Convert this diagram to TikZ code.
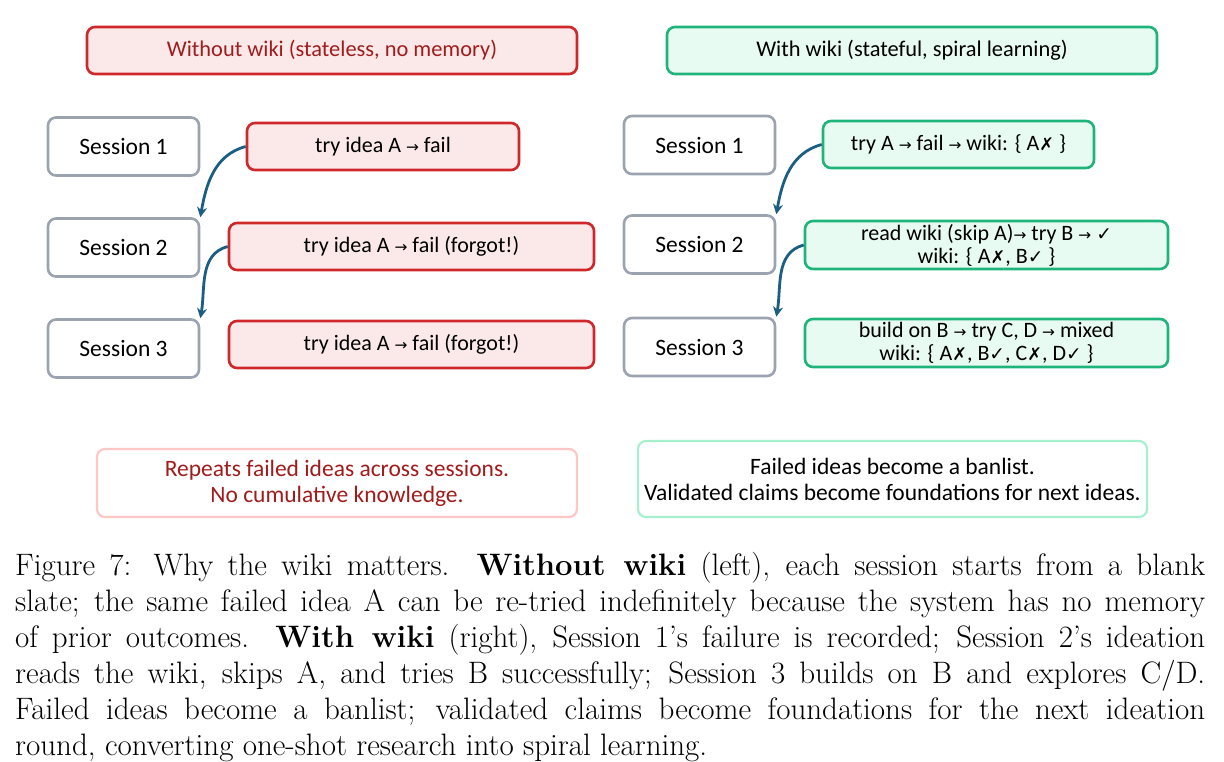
\documentclass[tikz,border=0pt]{standalone}
\usepackage{fontspec}
\newfontfamily\diag{Carlito}
\newfontfamily\symf{DejaVu Sans}
\usetikzlibrary{arrows.meta}
\definecolor{redB}{RGB}{208,40,42}
\definecolor{pinkF}{RGB}{251,233,233}
\definecolor{redT}{RGB}{160,28,28}
\definecolor{grnB}{RGB}{30,180,122}
\definecolor{mintF}{RGB}{232,251,242}
\definecolor{grayB}{RGB}{156,163,176}
\definecolor{arrowC}{RGB}{27,94,130}
\definecolor{lpinkB}{RGB}{255,198,198}
\definecolor{lgrnB}{RGB}{166,240,208}
\newcommand\rarr{{\symf\scalebox{0.7}{→}}}
\newcommand\myx{{\symf\scalebox{0.8}{✗}}}
\newcommand\mychk{{\symf\scalebox{0.85}{✓}}}
\begin{document}
\begin{tikzpicture}[x=1pt,y=-1pt,
  basebox/.style={draw, rounded corners=8pt, line width=2.6pt, inner sep=0pt, align=center,
    font=\diag\fontsize{22}{25}\selectfont},
  redbox/.style={basebox, draw=redB, fill=pinkF},
  grnbox/.style={basebox, draw=grnB, fill=mintF},
  ttl/.style={font=\diag\fontsize{22.4}{26}\selectfont, minimum width=490pt, minimum height=47pt},
  sess/.style={basebox, draw=grayB, fill=white, font=\diag\fontsize{23.5}{27}\selectfont,
    minimum width=151pt, minimum height=58pt},
  note/.style={basebox, line width=2.2pt, fill=white, font=\diag\fontsize{23.5}{26}\selectfont},
  flow/.style={draw=arrowC, line width=2.8pt, -{Stealth[length=10pt,width=10pt]}, out=195, in=80}]
\useasboundingbox (0,0) rectangle (1224,761);
% titles
\node[redbox, ttl, text=redT] (lt) at (332,50.5) {Without wiki (stateless, no memory)};
\node[grnbox, ttl] (rt) at (912,50.5) {With wiki (stateful, spiral learning)};
% left sessions
\node[sess] (ls1) at (123.5,146.5) {Session 1};
\node[sess] (ls2) at (123.5,247.5) {Session 2};
\node[sess] (ls3) at (123.5,348.5) {Session 3};
\node[redbox, minimum width=272pt, minimum height=47pt] (li1) at (383,146.5) {try idea A \rarr{} fail};
\node[redbox, minimum width=365pt, minimum height=47pt] (li2) at (411.5,246.5) {try idea A \rarr{} fail (forgot!)};
\node[redbox, minimum width=365pt, minimum height=47pt] (li3) at (411.5,344.5) {try idea A \rarr{} fail (forgot!)};
% right sessions
\node[sess] (rs1) at (699.5,145) {Session 1};
\node[sess] (rs2) at (699.5,244.5) {Session 2};
\node[sess] (rs3) at (699.5,347) {Session 3};
\node[grnbox, minimum width=271pt, minimum height=47pt] (ri1) at (958.5,144.5) {try A \rarr{} fail \rarr{} wiki: \{ A\myx{} \}};
\node[grnbox, minimum width=363pt, minimum height=48pt, font=\diag\fontsize{22}{24}\selectfont] (ri2) at (986.5,245) {read wiki (skip A)\rarr{} try B \rarr{} \mychk\\[-1pt] wiki: \{ A\myx, B\mychk{} \}};
\node[grnbox, minimum width=363pt, minimum height=48pt, font=\diag\fontsize{22}{24}\selectfont] (ri3) at (986.5,343) {build on B \rarr{} try C, D \rarr{} mixed\\[-1pt] wiki: \{ A\myx, B\mychk, C\myx, D\mychk{} \}};
% arrows
\draw[flow] (li1.west) to (ls2.north east);
\draw[flow] (li2.west) to (ls3.north east);
\draw[flow] (ri1.west) to (rs2.north east);
\draw[flow] (ri2.west) to (rs3.north east);
% notes
\node[note, draw=lpinkB, text=redT, minimum width=480pt, minimum height=68pt] (ln) at (337,483) {Repeats failed ideas across sessions.\\ No cumulative knowledge.};
\node[note, draw=lgrnB, minimum width=509pt, minimum height=76pt] (rn) at (892.5,479) {Failed ideas become a banlist.\\ Validated claims become foundations for next ideas.};
% caption
\node[anchor=north west, inner sep=0pt, text width=1190pt, align=justify,
  font=\fontsize{31}{36}\selectfont] (cap) at (15,552) {Figure 7: Why the wiki matters. \textbf{Without wiki} (left), each session starts from a blank\linebreak
slate; the same failed idea A can be re-tried indefinitely because the system has no memory\linebreak
of prior outcomes. \textbf{With wiki} (right), Session 1's failure is recorded; Session 2's ideation\linebreak
reads the wiki, skips A, and tries B successfully; Session 3 builds on B and explores C/D.\linebreak
Failed ideas become a banlist; validated claims become foundations for the next ideation\linebreak
round, converting one-shot research into spiral learning.};
\end{tikzpicture}
\end{document}
